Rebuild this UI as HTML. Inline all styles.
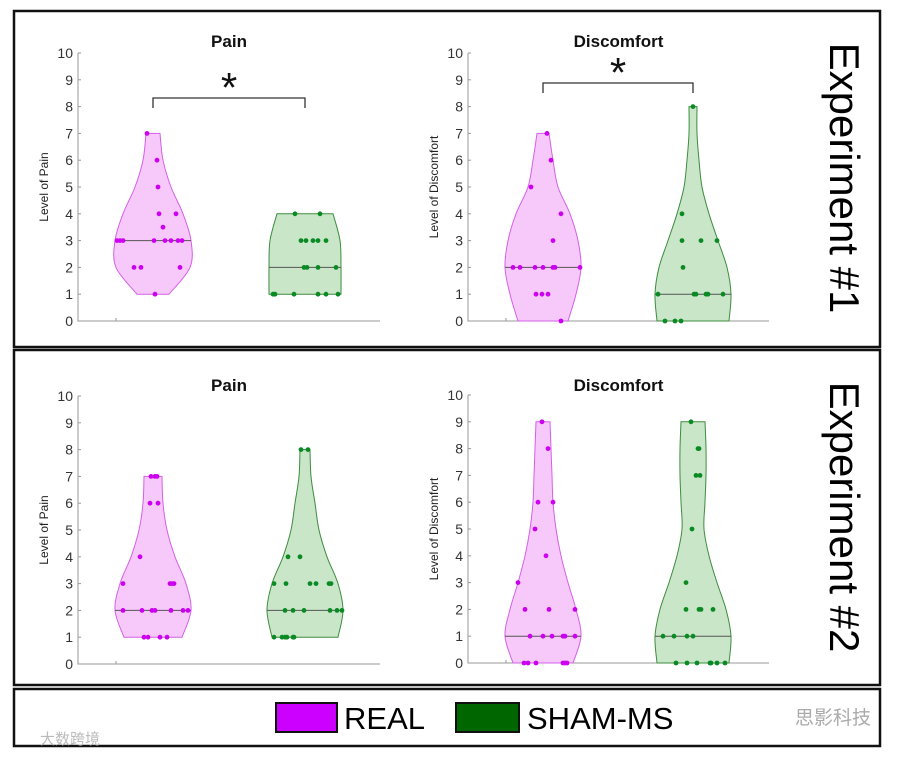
<!DOCTYPE html>
<html><head><meta charset="utf-8">
<style>
body{margin:0;background:#fff;width:900px;height:757px;overflow:hidden;font-family:"Liberation Sans",Arial,sans-serif}
svg{display:block}
</style></head>
<body>
<svg id="chart" width="900" height="757" viewBox="0 0 900 757" xmlns="http://www.w3.org/2000/svg">
  <rect x="14" y="11" width="866" height="336" fill="none" stroke="#111" stroke-width="2.5"/>
  <rect x="14" y="350" width="866" height="335" fill="none" stroke="#111" stroke-width="2.5"/>
  <rect x="14" y="689" width="866" height="57" fill="none" stroke="#111" stroke-width="2.5"/>
  <text transform="translate(830,178) rotate(90)" text-anchor="middle" font-size="42" fill="#000">Experiment #1</text>
  <text transform="translate(830,517) rotate(90)" text-anchor="middle" font-size="42" fill="#000">Experiment #2</text>
  <g>
    <rect x="276" y="703" width="61" height="29" fill="#cc00ff" stroke="#111" stroke-width="2"/>
    <text x="344" y="729" font-size="31" fill="#000">REAL</text>
    <rect x="456" y="703" width="63" height="29" fill="#006600" stroke="#111" stroke-width="2"/>
    <text x="527" y="729" font-size="31" fill="#000">SHAM-MS</text>
  </g>
  <text x="795" y="724" font-size="19" fill="#aaa" font-family="'Noto Sans CJK SC',sans-serif">思影科技</text>
  <text x="40" y="744" font-size="15" fill="#bbb" font-family="'Noto Sans CJK SC',sans-serif">大数跨境</text>
  <g id="plots"></g>
</svg>
<script>
// ---- data ----
const ticks = [0,1,2,3,4,5,6,7,8,9,10];
const groups = ["REAL","SHAM-MS"];
// Exp1 Pain
const e1PainRealVals = [7,6,5,4,4,3.5,3,3,3,3,3,3,3,3,2,2,2,1];
const e1PainRealJit  = [-6,4,5,6,23,10,-36,-33,-30,1,12,18,25,29,-19,-12,27,2];
const e1PainShamVals = [4,4,3,3,3,3,3,2,2,2,2,1,1,1,1,1,1];
const e1PainShamJit  = [-10,15,-4,1,8,13,21,-1,2,13,31,-32,-30,-11,13,21,33];
// Exp1 Discomfort
const e1DiscRealVals = [7,6,5,4,3,2,2,2,2,2,2,2,1,1,1,0];
const e1DiscRealJit  = [4,8,-12,18,10,-30,-23,-8,0,10,12,37,-7,-1,5,18];
const e1DiscShamVals = [8,4,3,3,3,2,1,1,1,1,1,1,0,0,0];
const e1DiscShamJit  = [0,-11,-11,8,24,-10,-35,1,3,13,15,30,-28,-18,-12];
// Exp2 Pain
const e2PainRealVals = [7,7,7,6,6,4,3,3,3,3,2,2,2,2,2,2,2,1,1,1,1];
const e2PainRealJit  = [-2,2,4,-3,5,-13,-30,17,19,21,-30,-11,-1,2,18,30,35,-9,-5,7,14];
const e2PainShamVals = [8,8,4,4,3,3,3,3,3,3,2,2,2,2,2,2,1,1,1,1,1,1];
const e2PainShamJit  = [-4,3,-17,-5,-31,-19,5,11,24,26,-20,-12,-1,25,32,37,-31,-23,-20,-18,-12,-11];
// Exp2 Discomfort
const e2DiscRealVals = [9,8,6,6,5,4,3,2,2,2,1,1,1,1,1,1,0,0,0,0,0,0];
const e2DiscRealJit  = [-1,5,-5,10,-8,3,-25,-18,6,32,-13,0,9,20,22,32,-19,-15,-7,20,22,24];
const e2DiscShamVals = [9,8,8,7,7,5,3,2,2,2,2,1,1,1,1,0,0,0,0,0,0,0];
const e2DiscShamJit  = [-2,5,6,3,7,-1,-7,-7,6,8,20,-30,-19,-6,0,-17,-6,4,17,18,24,32];
// violin density (half-width) per integer level from min level
const e1PainRealDens = [16,37,38,30,18,10,7];
const e1PainShamDens = [36,36,35,28];
const e1DiscRealDens = [25,33,38,35,27,15,10,6];
const e1DiscShamDens = [36,38,34,25,16,9,6,4,4];
const e2PainRealDens = [29,38,33,22,14,10,9];
const e2PainShamDens = [33,38,33,22,14,10,6,5];
const e2DiscRealDens = [30,38,33,25,18,13,10,9,8,7];
const e2DiscShamDens = [36,38,33,24,16,11,12,13,13,12];
const medians = [3,2,2,1,2,2,1,1];

const panels = [
 {title:"Pain",ylab:"Level of Pain",x0:78,x1:380,y0:321,y10:53,cx:[153,305],ty:40,
  v:[[e1PainRealVals,e1PainRealJit,e1PainRealDens,1,medians[0]],[e1PainShamVals,e1PainShamJit,e1PainShamDens,1,medians[1]]],sig:{y:98,ay:86}},
 {title:"Discomfort",ylab:"Level of Discomfort",x0:468,x1:769,y0:321,y10:53,cx:[543,693],ty:40,
  v:[[e1DiscRealVals,e1DiscRealJit,e1DiscRealDens,0,medians[2]],[e1DiscShamVals,e1DiscShamJit,e1DiscShamDens,0,medians[3]]],sig:{y:83,ay:71}},
 {title:"Pain",ylab:"Level of Pain",x0:78,x1:380,y0:664,y10:396,cx:[153,305],ty:384,
  v:[[e2PainRealVals,e2PainRealJit,e2PainRealDens,1,medians[4]],[e2PainShamVals,e2PainShamJit,e2PainShamDens,1,medians[5]]]},
 {title:"Discomfort",ylab:"Level of Discomfort",x0:468,x1:769,y0:663,y10:395,cx:[543,693],ty:384,
  v:[[e2DiscRealVals,e2DiscRealJit,e2DiscRealDens,0,medians[6]],[e2DiscShamVals,e2DiscShamJit,e2DiscShamDens,0,medians[7]]]}
];
const NS="http://www.w3.org/2000/svg";
const root=document.getElementById('plots');
function mk(tag,attrs,parent){const e=document.createElementNS(NS,tag);for(const k in attrs)e.setAttribute(k,attrs[k]);(parent||root).appendChild(e);return e;}
const fills=["#f7c9fa","#c9e6c9"], strokes=["#d460e8","#3d8c3d"], dots=["#cc00ee","#0a8a22"];
function spline(pts){let d="";for(let i=0;i<pts.length-1;i++){const p0=pts[Math.max(0,i-1)],p1=pts[i],p2=pts[i+1],p3=pts[Math.min(pts.length-1,i+2)];
 const c1=[p1[0]+(p2[0]-p0[0])/6,p1[1]+(p2[1]-p0[1])/6],c2=[p2[0]-(p3[0]-p1[0])/6,p2[1]-(p3[1]-p1[1])/6];
 d+=` C${c1[0]},${c1[1]} ${c2[0]},${c2[1]} ${p2[0]},${p2[1]}`;}return d;}
panels.forEach((p,pi)=>{
  const g=mk('g',{});
  
  
  const ys=v=>p.y0+(p.y10-p.y0)*v/10;
  const t=mk('text',{x:(p.x0+p.x1)/2,y:p.ty+7,'text-anchor':'middle','font-size':17,'font-weight':'bold',fill:'#111'},g);
  t.textContent=p.title;
  
  
  const yl=mk('text',{transform:`translate(${p.x0-30},${(p.y0+p.y10)/2}) rotate(-90)`,'text-anchor':'middle','font-size':12,fill:'#222'},g);
  yl.textContent=p.ylab;
  
  
  const ax=mk('path',{d:`M${p.x0},${p.y10} V${p.y0} H${p.x1}`,fill:'none',stroke:'#999','stroke-width':1},g);
  
  
  mk('line',{x1:p.x0+38,x2:p.x0+38,y1:p.y0,y2:p.y0-3,stroke:'#999'},g);
  ticks.forEach(tv=>{
    mk('line',{x1:p.x0,x2:p.x0+3,y1:ys(tv),y2:ys(tv),stroke:'#999'},g);
    const tl=mk('text',{x:p.x0-5,y:ys(tv)+5,'text-anchor':'end','font-size':14,fill:'#333'},g);
    tl.textContent=tv;
    
    
  });
  p.v.forEach((vv,gi)=>{
    const [vals,jit,dens,lo,med]=vv, cx=p.cx[gi];
    const right=dens.map((w,i)=>[cx+w,ys(lo+i)]), left=dens.map((w,i)=>[cx-w,ys(lo+i)]).reverse();
    let d=`M${right[0][0]},${right[0][1]}`+spline(right)+` L${left[0][0]},${left[0][1]}`+spline(left)+" Z";
    const vp=mk('path',{d,fill:fills[gi],stroke:strokes[gi],'stroke-width':1},g);
    
    
    const mi=Math.round(med-lo), mw=dens[mi];
    const ml=mk('line',{x1:cx-mw,x2:cx+mw,y1:ys(med),y2:ys(med),stroke:'#555','stroke-width':1},g);
    
    
    vals.forEach((v,i)=>{
      const c=mk('circle',{cx:cx+jit[i],cy:ys(v),r:2.4,fill:dots[gi]},g);
      
      
    });
  });
  if(p.sig){
    const b=mk('path',{d:`M${p.cx[0]},${p.sig.y+10} V${p.sig.y} H${p.cx[1]} V${p.sig.y+10}`,fill:'none',stroke:'#333','stroke-width':1.3},g);
    
    
    const a=mk('text',{x:(p.cx[0]+p.cx[1])/2,y:p.sig.ay+16,'text-anchor':'middle','font-size':42,fill:'#111'},g);
    a.textContent='*';
    
    
  }
});
</script>
</body></html>
